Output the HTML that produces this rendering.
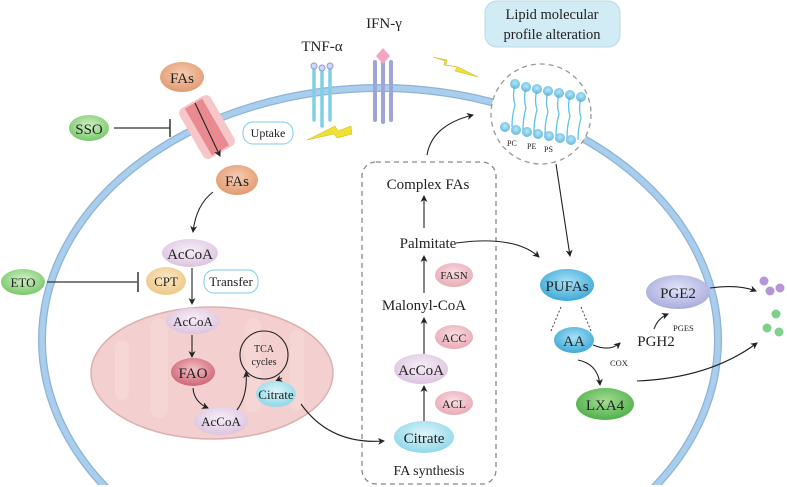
<!DOCTYPE html>
<html><head><meta charset="utf-8"><style>
html,body{margin:0;padding:0;background:#fff;width:787px;height:487px;overflow:hidden;}
svg{display:block;font-family:"Liberation Serif",serif;}
</style></head><body>
<svg width="787" height="487" viewBox="0 0 787 487" xmlns="http://www.w3.org/2000/svg">
<defs>
<marker id="ar" markerWidth="8" markerHeight="8" refX="6" refY="4" orient="auto" markerUnits="userSpaceOnUse"><path d="M0,0.5 L7,4 L0,7.5 L2,4 Z" fill="#222"/></marker>
<radialGradient id="gO" cx="50%" cy="40%" r="60%"><stop offset="0" stop-color="#f6cdb2"/><stop offset="1" stop-color="#e29a72"/></radialGradient>
<radialGradient id="gP" cx="50%" cy="40%" r="60%"><stop offset="0" stop-color="#f8eef8"/><stop offset="1" stop-color="#dcc4e0"/></radialGradient>
<radialGradient id="gR" cx="50%" cy="40%" r="60%"><stop offset="0" stop-color="#f9dde2"/><stop offset="1" stop-color="#e9aab6"/></radialGradient>
<radialGradient id="gF" cx="50%" cy="40%" r="60%"><stop offset="0" stop-color="#f4c2c8"/><stop offset="1" stop-color="#cf6474"/></radialGradient>
<radialGradient id="gT" cx="50%" cy="40%" r="60%"><stop offset="0" stop-color="#dff6fa"/><stop offset="1" stop-color="#8fd8e8"/></radialGradient>
<radialGradient id="gB" cx="50%" cy="40%" r="60%"><stop offset="0" stop-color="#a8e2f6"/><stop offset="1" stop-color="#3ea9d8"/></radialGradient>
<radialGradient id="gG" cx="50%" cy="40%" r="60%"><stop offset="0" stop-color="#d3f0c8"/><stop offset="1" stop-color="#78c86a"/></radialGradient>
<radialGradient id="gG2" cx="50%" cy="40%" r="60%"><stop offset="0" stop-color="#a4dc94"/><stop offset="1" stop-color="#50b04a"/></radialGradient>
<radialGradient id="gY" cx="50%" cy="40%" r="60%"><stop offset="0" stop-color="#fbe8c6"/><stop offset="1" stop-color="#eec888"/></radialGradient>
<radialGradient id="gV" cx="50%" cy="40%" r="60%"><stop offset="0" stop-color="#e2e4f8"/><stop offset="1" stop-color="#a8acdc"/></radialGradient>
</defs>
<ellipse cx="380" cy="340" rx="338" ry="252" fill="none" stroke="#8fb3d6" stroke-width="8"/>
<ellipse cx="380" cy="340" rx="338" ry="252" fill="none" stroke="#a9cdec" stroke-width="5.5"/>
<rect x="0" y="485" width="787" height="2" fill="#fff"/>
<ellipse cx="212" cy="373" rx="121" ry="66" fill="#f3cfcf" stroke="#dcb0b0" stroke-width="1.5"/>
<g fill="#f6d8d6" opacity="0.8">
<rect x="150" y="318" width="18" height="100" rx="9"/><rect x="245" y="318" width="16" height="95" rx="8"/><rect x="290" y="330" width="14" height="80" rx="7"/><rect x="115" y="340" width="14" height="60" rx="7"/>
</g>
<rect x="362" y="162" width="134" height="322" rx="14" fill="none" stroke="#888" stroke-width="1.3" stroke-dasharray="5,4"/>
<circle cx="541" cy="114" r="50" fill="#fff" stroke="#999" stroke-width="1.3" stroke-dasharray="5,4"/>
<g stroke="#5cc3ea" stroke-width="1.3" fill="none">
<path d="M515,85 q-3,10 0,20 q-3,10 -3,22"/><path d="M526,88 q-3,10 0,20 q-3,10 -3,22"/><path d="M537,90 q-3,10 0,20 q-3,10 -3,22"/><path d="M548,92 q-3,10 0,20 q-3,10 -3,22"/><path d="M559,94 q-3,10 0,20 q-3,10 -3,22"/><path d="M570,96 q-3,10 0,20 q-3,10 -3,22"/><path d="M581,98 q-3,10 0,20 q-3,10 -3,22"/>
</g>
<g fill="url(#gB)" opacity="0.8">
<circle cx="515" cy="84" r="5"/><circle cx="526" cy="87" r="5"/><circle cx="537" cy="89" r="5"/><circle cx="548" cy="91" r="5"/><circle cx="559" cy="93" r="5"/><circle cx="570" cy="95" r="5"/><circle cx="581" cy="97" r="5"/>
<circle cx="505" cy="127" r="5"/><circle cx="516" cy="130" r="5"/><circle cx="527" cy="132" r="5"/><circle cx="538" cy="134" r="5"/><circle cx="549" cy="136" r="5"/><circle cx="560" cy="138" r="5"/><circle cx="571" cy="140" r="5"/>
</g>
<g font-size="8" fill="#222"><text x="507" y="146">PC</text><text x="527" y="149">PE</text><text x="544" y="152">PS</text></g>
<rect x="485" y="1" width="135" height="46" rx="12" fill="#d2ecf6" stroke="#b8d8e6"/>
<text x="552" y="19" font-size="14.5" text-anchor="middle" fill="#222">Lipid molecular</text>
<text x="552" y="39" font-size="14.5" text-anchor="middle" fill="#222">profile alteration</text>
<text x="322" y="51" font-size="15" text-anchor="middle" fill="#222">TNF-α</text>
<text x="384" y="28" font-size="15" text-anchor="middle" fill="#222">IFN-γ</text>
<g stroke="#7fd0e6" stroke-width="3.5" stroke-linecap="round"><line x1="314" y1="68" x2="314" y2="120"/><line x1="322" y1="68" x2="322" y2="126"/><line x1="330" y1="68" x2="330" y2="120"/></g>
<g fill="#d0d8f4" stroke="#8f9ad0"><circle cx="314" cy="66" r="3"/><circle cx="322" cy="68" r="3"/><circle cx="330" cy="66" r="3"/></g>
<g stroke="#9ea4d4" stroke-width="4" stroke-linecap="round"><line x1="375" y1="62" x2="375" y2="120"/><line x1="383" y1="60" x2="383" y2="122"/><line x1="391" y1="62" x2="391" y2="120"/></g>
<path d="M383,48 L390,56 L383,64 L376,56 Z" fill="#f2a6c4"/>
<path d="M307,140 L335,126 L338,131 L351,126 L352,134 L337,138 L334,134 Z" fill="#f0e030" stroke="#c8b820" stroke-width="0.5"/>
<path d="M433,57 L447,60 L446,65 L458,67 L478,77 L455,71 L457,67 L444,65 L445,61 Z" fill="#f0e030" stroke="#c8b820" stroke-width="0.5"/>
<g transform="rotate(-30 207 127)">
<rect x="189" y="98" width="36" height="58" rx="6" fill="#f6c6c8"/>
<rect x="197" y="100" width="20" height="54" fill="#e88a90"/>
</g>
<line x1="195" y1="103" x2="220" y2="156" stroke="#222" stroke-width="1.1" marker-end="url(#ar)"/>
<ellipse cx="182" cy="77" rx="22" ry="15" fill="url(#gO)"/><text x="182" y="83" font-size="15" text-anchor="middle" fill="#222">FAs</text>
<ellipse cx="89" cy="128" rx="20" ry="13" fill="url(#gG)"/><text x="89" y="134" font-size="15" text-anchor="middle" fill="#222">SSO</text>
<line x1="114" y1="128" x2="170" y2="128" stroke="#333" stroke-width="1.2"/><line x1="170" y1="119" x2="170" y2="137" stroke="#333" stroke-width="1.5"/>
<rect x="243" y="122" width="50" height="22" rx="10" fill="#fff" stroke="#7ccbe6"/><text x="268" y="137" font-size="12" text-anchor="middle" fill="#222">Uptake</text>
<ellipse cx="237" cy="180" rx="21" ry="15" fill="url(#gO)"/><text x="237" y="186" font-size="15" text-anchor="middle" fill="#222">FAs</text>
<path d="M213,192 Q196,205 193,232" fill="none" stroke="#222" stroke-width="1.1" marker-end="url(#ar)"/>
<ellipse cx="190" cy="253" rx="28" ry="14" fill="url(#gP)"/><text x="190" y="259" font-size="15" text-anchor="middle" fill="#222">AcCoA</text>
<ellipse cx="23" cy="282" rx="22" ry="13" fill="url(#gG)"/><text x="23" y="287" font-size="13" text-anchor="middle" fill="#222">ETO</text>
<line x1="47" y1="282" x2="137" y2="282" stroke="#333" stroke-width="1.2"/><line x1="138" y1="272" x2="138" y2="292" stroke="#333" stroke-width="1.5"/>
<ellipse cx="166" cy="281" rx="20" ry="14" fill="url(#gY)"/><text x="166" y="286" font-size="13" text-anchor="middle" fill="#222">CPT</text>
<rect x="204" y="270" width="54" height="23" rx="10" fill="#fff" stroke="#7ccbe6"/><text x="231" y="286" font-size="13" text-anchor="middle" fill="#222">Transfer</text>
<line x1="192" y1="268" x2="192" y2="304" stroke="#222" stroke-width="1.1" marker-end="url(#ar)"/>
<ellipse cx="193" cy="321" rx="27" ry="13" fill="url(#gP)"/><text x="193" y="326" font-size="13" text-anchor="middle" fill="#222">AcCoA</text>
<line x1="192" y1="335" x2="192" y2="357" stroke="#222" stroke-width="1.1" marker-end="url(#ar)"/>
<ellipse cx="193" cy="372" rx="22" ry="14" fill="url(#gF)"/><text x="193" y="378" font-size="15" text-anchor="middle" fill="#222">FAO</text>
<path d="M193,388 Q194,402 208,408" fill="none" stroke="#222" stroke-width="1.1" marker-end="url(#ar)"/>
<ellipse cx="221" cy="421" rx="27" ry="14" fill="url(#gP)"/><text x="221" y="426" font-size="13" text-anchor="middle" fill="#222">AcCoA</text>
<circle cx="264" cy="355" r="24" fill="none" stroke="#222" stroke-width="1.1"/>
<text x="264" y="352" font-size="10" text-anchor="middle" fill="#222">TCA</text><text x="264" y="365" font-size="10" text-anchor="middle" fill="#222">cycles</text>
<path d="M237,410 Q248,395 246,372" fill="none" stroke="#222" stroke-width="1.1" marker-end="url(#ar)"/>
<path d="M282,378 L276,381" fill="none" stroke="#222" stroke-width="1.1" marker-end="url(#ar)"/>
<ellipse cx="276" cy="394" rx="20" ry="13" fill="url(#gT)"/><text x="276" y="399" font-size="13" text-anchor="middle" fill="#222">Citrate</text>
<path d="M301,404 Q330,445 384,441" fill="none" stroke="#222" stroke-width="1.1" marker-end="url(#ar)"/>
<text x="428" y="189" font-size="15" text-anchor="middle" fill="#222">Complex FAs</text>
<line x1="424" y1="228" x2="424" y2="196" stroke="#222" stroke-width="1.1" marker-end="url(#ar)"/>
<text x="428" y="248" font-size="15" text-anchor="middle" fill="#222">Palmitate</text>
<ellipse cx="454" cy="275" rx="19" ry="12" fill="url(#gR)"/><text x="454" y="279" font-size="11" text-anchor="middle" fill="#222">FASN</text>
<line x1="424" y1="293" x2="424" y2="256" stroke="#222" stroke-width="1.1" marker-end="url(#ar)"/>
<text x="424" y="310" font-size="15" text-anchor="middle" fill="#222">Malonyl-CoA</text>
<ellipse cx="454" cy="337" rx="19" ry="12" fill="url(#gR)"/><text x="454" y="342" font-size="12" text-anchor="middle" fill="#222">ACC</text>
<line x1="424" y1="354" x2="424" y2="318" stroke="#222" stroke-width="1.1" marker-end="url(#ar)"/>
<ellipse cx="421" cy="369" rx="27" ry="15" fill="url(#gP)"/><text x="421" y="375" font-size="15" text-anchor="middle" fill="#222">AcCoA</text>
<ellipse cx="454" cy="403" rx="19" ry="12" fill="url(#gR)"/><text x="454" y="408" font-size="12" text-anchor="middle" fill="#222">ACL</text>
<line x1="424" y1="422" x2="424" y2="386" stroke="#222" stroke-width="1.1" marker-end="url(#ar)"/>
<ellipse cx="424" cy="437" rx="30" ry="16" fill="url(#gT)"/><text x="424" y="443" font-size="15" text-anchor="middle" fill="#222">Citrate</text>
<text x="429" y="475" font-size="14" text-anchor="middle" fill="#222">FA synthesis</text>
<path d="M427,155 Q432,125 473,115" fill="none" stroke="#222" stroke-width="1.1" marker-end="url(#ar)"/>
<path d="M456,243 Q515,235 539,257" fill="none" stroke="#222" stroke-width="1.1" marker-end="url(#ar)"/>
<line x1="556" y1="164" x2="570" y2="256" stroke="#222" stroke-width="1.1" marker-end="url(#ar)"/>
<ellipse cx="567" cy="285" rx="27" ry="16" fill="url(#gB)"/><text x="567" y="291" font-size="15" text-anchor="middle" fill="#222">PUFAs</text>
<line x1="561" y1="307" x2="551" y2="331" stroke="#444" stroke-dasharray="2,2"/><line x1="581" y1="307" x2="591" y2="331" stroke="#444" stroke-dasharray="2,2"/>
<ellipse cx="574" cy="340" rx="20" ry="13" fill="url(#gB)"/><text x="574" y="346" font-size="15" text-anchor="middle" fill="#222">AA</text>
<path d="M593,345 Q610,352 620,343" fill="none" stroke="#222" stroke-width="1.1" marker-end="url(#ar)"/>
<text x="610" y="366" font-size="8.5" fill="#222">COX</text>
<text x="656" y="346" font-size="15" text-anchor="middle" fill="#222">PGH2</text>
<path d="M654,329 Q658,318 668,314" fill="none" stroke="#222" stroke-width="1.1" marker-end="url(#ar)"/>
<text x="673" y="331" font-size="8.5" fill="#222">PGES</text>
<ellipse cx="678" cy="292" rx="32" ry="17" fill="url(#gV)"/><text x="678" y="298" font-size="15" text-anchor="middle" fill="#222">PGE2</text>
<path d="M710,288 Q738,284 756,291" fill="none" stroke="#222" stroke-width="1.1" marker-end="url(#ar)"/>
<path d="M578,360 Q598,364 600,385" fill="none" stroke="#222" stroke-width="1.1" marker-end="url(#ar)"/>
<ellipse cx="605" cy="404" rx="29" ry="16" fill="url(#gG2)"/><text x="605" y="410" font-size="15" text-anchor="middle" fill="#222">LXA4</text>
<path d="M637,381 Q710,378 757,343" fill="none" stroke="#222" stroke-width="1.1" marker-end="url(#ar)"/>
<g fill="#b497d6"><circle cx="764" cy="281" r="4.5"/><circle cx="770" cy="291" r="4.5"/><circle cx="780" cy="288" r="4.5"/></g>
<g fill="#7ed08a"><circle cx="776" cy="314" r="4.5"/><circle cx="767" cy="328" r="4.5"/><circle cx="779" cy="332" r="4.5"/></g>
</svg>
</body></html>
